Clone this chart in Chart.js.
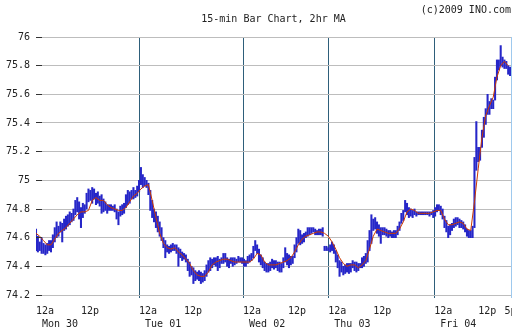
<!DOCTYPE html>
<html>
<head>
<meta charset="utf-8">
<title>15-min Bar Chart, 2hr MA</title>
<script src="https://cdn.jsdelivr.net/npm/chart.js@4.4.1/dist/chart.umd.min.js"></script>
<style>
  html, body { margin: 0; padding: 0; background: #fff; }
  canvas { display: block; }
</style>
</head>
<body>
<canvas id="quotes" width="512" height="335"></canvas>
<script>
const FONT = "'DejaVu Sans Mono', 'Liberation Mono', monospace";

// x is counted in 15-min slots; one bar per 2 slots
const barStep = 2;
const highs = [
  74.66, 74.61, 74.57, 74.60, 74.56, 74.55, 74.56, 74.58,
  74.58, 74.62, 74.67, 74.71, 74.68, 74.71, 74.70, 74.73,
  74.75, 74.76, 74.78, 74.77, 74.80, 74.86, 74.88, 74.85,
  74.81, 74.84, 74.83, 74.91, 74.94, 74.93, 74.95, 74.94,
  74.91, 74.92, 74.89, 74.90, 74.87, 74.85, 74.83, 74.83,
  74.83, 74.82, 74.83, 74.80, 74.78, 74.82, 74.83, 74.84,
  74.90, 74.93, 74.92, 74.93, 74.95, 74.93, 74.96, 75.00,
  75.09, 75.04, 75.02, 75.00, 74.98, 74.93, 74.86, 74.80,
  74.78, 74.75, 74.71, 74.67, 74.60, 74.58, 74.55, 74.54,
  74.55, 74.56, 74.55, 74.55, 74.53, 74.52, 74.50, 74.49,
  74.48, 74.45, 74.43, 74.40, 74.39, 74.37, 74.36, 74.37,
  74.36, 74.35, 74.37, 74.41, 74.44, 74.46, 74.45, 74.46,
  74.46, 74.47, 74.45, 74.46, 74.49, 74.49, 74.46, 74.45,
  74.46, 74.46, 74.46, 74.45, 74.47, 74.46, 74.46, 74.45,
  74.44, 74.47, 74.48, 74.49, 74.54, 74.58, 74.55, 74.52,
  74.48, 74.46, 74.43, 74.42, 74.42, 74.43, 74.45, 74.44,
  74.44, 74.43, 74.43, 74.42, 74.46, 74.53, 74.49, 74.48,
  74.47, 74.47, 74.55, 74.60, 74.66, 74.65, 74.62, 74.63,
  74.64, 74.67, 74.67, 74.67, 74.67, 74.66, 74.65, 74.66,
  74.66, 74.67, 74.54, 74.54, 74.53, 74.55, 74.57, 74.55,
  74.51, 74.48, 74.44, 74.43, 74.40, 74.41, 74.42, 74.42,
  74.42, 74.44, 74.43, 74.43, 74.42, 74.42, 74.46, 74.47,
  74.49, 74.58, 74.65, 74.76, 74.73, 74.74, 74.71, 74.69,
  74.67, 74.67, 74.67, 74.66, 74.65, 74.65, 74.64, 74.65,
  74.65, 74.68, 74.71, 74.77, 74.79, 74.86, 74.84, 74.81,
  74.80, 74.79, 74.80, 74.78, 74.78, 74.78, 74.78, 74.78,
  74.78, 74.78, 74.78, 74.78, 74.79, 74.81, 74.83, 74.83,
  74.82, 74.80, 74.75, 74.72, 74.68, 74.69, 74.70, 74.73,
  74.74, 74.74, 74.73, 74.72, 74.71, 74.69, 74.66, 74.65,
  74.65, 74.68, 75.16, 75.41, 75.23, 75.23, 75.35, 75.44,
  75.50, 75.60, 75.55, 75.57, 75.56, 75.72, 75.84, 75.84,
  75.94, 75.86, 75.84, 75.83, 75.80, 75.79
];
const lows = [
  74.51, 74.50, 74.51, 74.49, 74.49, 74.48, 74.49, 74.51,
  74.50, 74.53, 74.57, 74.60, 74.61, 74.64, 74.57, 74.65,
  74.66, 74.68, 74.69, 74.71, 74.72, 74.76, 74.78, 74.73,
  74.67, 74.74, 74.77, 74.80, 74.85, 74.86, 74.84, 74.87,
  74.83, 74.84, 74.82, 74.77, 74.78, 74.79, 74.77, 74.79,
  74.79, 74.79, 74.78, 74.73, 74.69, 74.75, 74.76, 74.77,
  74.81, 74.83, 74.84, 74.87, 74.87, 74.88, 74.89, 74.92,
  74.97, 74.95, 74.96, 74.95, 74.90, 74.79, 74.74, 74.71,
  74.67, 74.64, 74.61, 74.58, 74.53, 74.46, 74.50, 74.49,
  74.50, 74.51, 74.51, 74.49, 74.40, 74.46, 74.44, 74.45,
  74.43, 74.37, 74.33, 74.34, 74.28, 74.30, 74.31, 74.30,
  74.28, 74.29, 74.30, 74.33, 74.36, 74.37, 74.39, 74.41,
  74.40, 74.37, 74.39, 74.42, 74.42, 74.43, 74.40, 74.39,
  74.42, 74.40, 74.41, 74.42, 74.43, 74.43, 74.42, 74.40,
  74.40, 74.42, 74.43, 74.44, 74.46, 74.51, 74.49, 74.43,
  74.41, 74.39, 74.37, 74.36, 74.36, 74.37, 74.39, 74.38,
  74.39, 74.37, 74.36, 74.36, 74.39, 74.43, 74.41, 74.39,
  74.41, 74.42, 74.46, 74.50, 74.56, 74.55, 74.56, 74.57,
  74.60, 74.61, 74.62, 74.63, 74.64, 74.62, 74.62, 74.62,
  74.62, 74.61, 74.51, 74.51, 74.51, 74.50, 74.51, 74.49,
  74.43, 74.39, 74.33, 74.36, 74.34, 74.35, 74.36, 74.35,
  74.36, 74.39, 74.37, 74.36, 74.37, 74.39, 74.39, 74.40,
  74.42, 74.43, 74.51, 74.56, 74.65, 74.66, 74.63, 74.61,
  74.56, 74.62, 74.62, 74.61, 74.60, 74.61, 74.60, 74.60,
  74.60, 74.62, 74.65, 74.70, 74.72, 74.78, 74.76, 74.74,
  74.75, 74.74, 74.76, 74.75, 74.76, 74.76, 74.76, 74.76,
  74.76, 74.76, 74.75, 74.76, 74.74, 74.75, 74.78, 74.79,
  74.76, 74.73, 74.67, 74.64, 74.60, 74.62, 74.65, 74.67,
  74.68, 74.69, 74.67, 74.67, 74.66, 74.64, 74.61, 74.60,
  74.60, 74.60, 74.67, 75.07, 75.13, 75.14, 75.23, 75.30,
  75.39, 75.46, 75.46, 75.50, 75.50, 75.56, 75.70, 75.77,
  75.80, 75.79, 75.78, 75.78, 75.74, 75.73
];

// 2hr moving average, one point per hour (4 slots)
const maStep = 4;
const movingAvg = [
  74.63, 74.61, 74.58, 74.55, 74.55, 74.59, 74.63, 74.65,
  74.67, 74.70, 74.73, 74.76, 74.78, 74.78, 74.79, 74.86,
  74.88, 74.86, 74.86, 74.83, 74.81, 74.80, 74.79, 74.79,
  74.81, 74.85, 74.89, 74.91, 74.94, 74.96, 74.97, 74.86,
  74.74, 74.63, 74.56, 74.53, 74.52, 74.53, 74.50, 74.48,
  74.45, 74.42, 74.37, 74.34, 74.33, 74.33, 74.36, 74.41,
  74.43, 74.44, 74.45, 74.45, 74.44, 74.43, 74.43, 74.43,
  74.43, 74.43, 74.45, 74.49, 74.48, 74.43, 74.41, 74.41,
  74.41, 74.42, 74.43, 74.44, 74.46, 74.50, 74.55, 74.59,
  74.61, 74.62, 74.63, 74.64, 74.64, 74.63, 74.61, 74.57,
  74.52, 74.46, 74.42, 74.40, 74.41, 74.41, 74.39, 74.41,
  74.44, 74.52, 74.61, 74.66, 74.65, 74.64, 74.63, 74.63,
  74.63, 74.66, 74.71, 74.78, 74.80, 74.79, 74.77, 74.77,
  74.77, 74.77, 74.78, 74.79, 74.79, 74.73, 74.69, 74.69,
  74.70, 74.71, 74.70, 74.66, 74.65, 74.85, 75.08, 75.30,
  75.45, 75.52, 75.58, 75.72, 75.80, 75.83, 75.80
];

const xMax = 507;
const xTickPos = [0, 48, 110, 158, 221, 269, 312, 360, 425, 472, 500];
const xTickLabels = [
  ["12a", " Mon 30"], ["12p"],
  ["12a", " Tue 01"], ["12p"],
  ["12a", " Wed 02"], ["12p"],
  ["12a", " Thu 03"], ["12p"],
  ["12a", " Fri 04"], ["12p"],
  ["5p"],
];
const yTicks = [74.2, 74.4, 74.6, 74.8, 75, 75.2, 75.4, 75.6, 75.8, 76];

// midnight lines, except the one on the left edge
const dayLine = (ctx) =>
  ctx.index > 0 && xTickLabels[ctx.index] && xTickLabels[ctx.index].length > 1
    ? "#2e5e7a"
    : "rgba(0,0,0,0)";

// header texts, y tick dashes and the right border
const chartFrame = {
  id: "chartFrame",
  afterDraw(chart) {
    const { ctx, chartArea: a, scales } = chart;
    const y = scales.y;
    ctx.save();
    ctx.strokeStyle = "#333";
    ctx.lineWidth = 1;
    y.ticks.forEach((t) => {
      const py = Math.round(y.getPixelForValue(t.value) - 0.5) + 0.5;
      ctx.beginPath();
      ctx.moveTo(a.left, py);
      ctx.lineTo(a.left + 6, py);
      ctx.stroke();
    });
    ctx.strokeStyle = "#9ec9ee";
    ctx.beginPath();
    ctx.moveTo(a.right + 0.5, a.top);
    ctx.lineTo(a.right + 0.5, a.bottom + 3);
    ctx.stroke();

    ctx.fillStyle = "#222";
    ctx.font = "10px " + FONT;
    ctx.textBaseline = "middle";
    ctx.textAlign = "right";
    ctx.fillText("(c)2009 INO.com", 511, 10.5);
    ctx.textAlign = "center";
    ctx.fillText("15-min Bar Chart, 2hr MA", (a.left + a.right) / 2, 19);
    ctx.restore();
  },
};

new Chart(document.getElementById("quotes"), {
  type: "bar",
  data: {
    datasets: [
      {
        type: "line",
        label: "2hr MA",
        data: movingAvg.map((v, j) => ({ x: j * maStep, y: v })),
        borderColor: "#cc3a00",
        borderWidth: 1,
        pointRadius: 0,
        tension: 0,
        order: 0,
      },
      {
        label: "15-min",
        data: highs.map((h, k) => ({ x: k * barStep, y: [lows[k], h] })),
        backgroundColor: "#2626c8",
        borderWidth: 0,
        barThickness: 1.4,
        grouped: false,
        order: 1,
      },
    ],
  },
  options: {
    responsive: false,
    devicePixelRatio: 1,
    animation: false,
    layout: { padding: { top: 37, right: 1, left: 0, bottom: 0 } },
    plugins: {
      legend: { display: false },
      tooltip: { enabled: false },
    },
    scales: {
      x: {
        type: "linear",
        min: 0,
        max: xMax,
        offset: false,
        border: { display: false },
        grid: {
          offset: false,
          color: dayLine,
          tickColor: dayLine,
          tickLength: 3,
        },
        ticks: {
          autoSkip: false,
          maxRotation: 0,
          minRotation: 0,
          align: "start",
          padding: 7,
          color: "#222",
          font: { family: FONT, size: 10, lineHeight: 1.3 },
          callback: (v, i) => xTickLabels[i],
        },
        afterBuildTicks: (s) => {
          s.ticks = xTickPos.map((v) => ({ value: v }));
        },
        afterFit: (s) => {
          s.height = 40;
          s.paddingLeft = 0;
          s.paddingRight = 0;
        },
      },
      y: {
        min: 74.2,
        max: 76,
        beginAtZero: false,
        border: { display: false },
        grid: { color: "#bdbdbd", drawTicks: false },
        ticks: {
          padding: 6,
          color: "#222",
          font: { family: FONT, size: 10 },
          callback: (v) => String(+v.toFixed(1)),
        },
        afterBuildTicks: (s) => {
          s.ticks = yTicks.map((v) => ({ value: v }));
        },
        afterFit: (s) => {
          s.width = 36;
        },
      },
    },
  },
  plugins: [chartFrame],
});
</script>
</body>
</html>
